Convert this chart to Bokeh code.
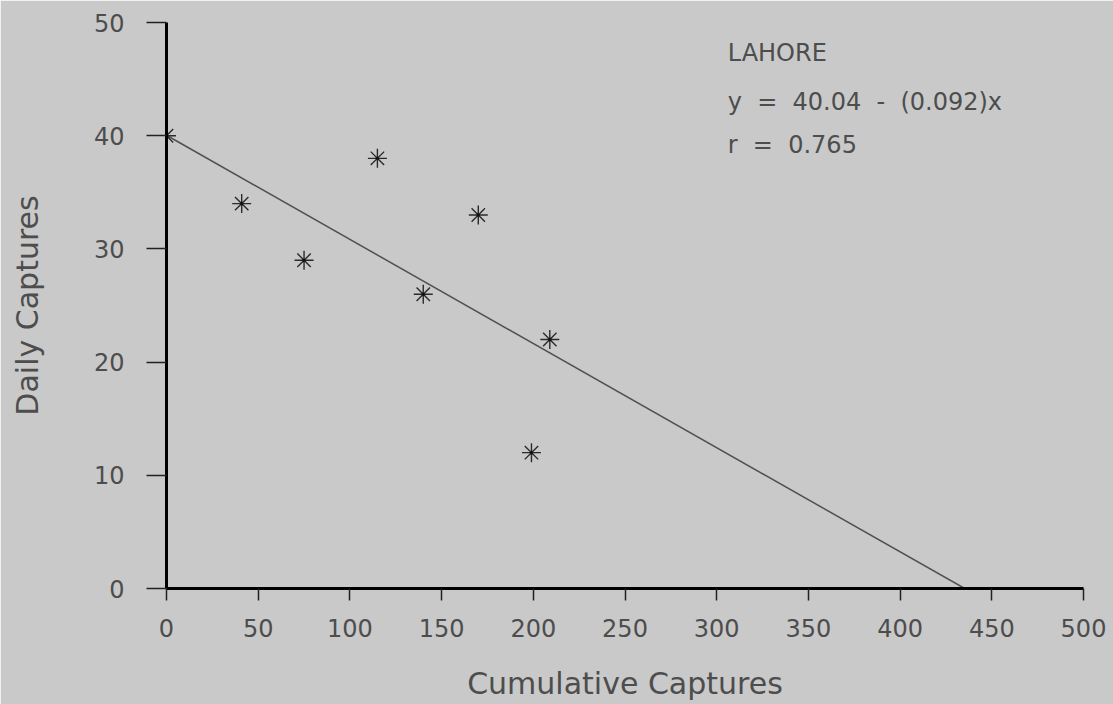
from bokeh.plotting import figure
from bokeh.models import Range1d, FixedTicker, Label
from bokeh.embed import file_html
from bokeh.resources import INLINE

# Lahore trapping data: cumulative captures vs daily captures
cumulative = [0, 41, 75, 115, 140, 170, 209, 199]
daily = [40, 34, 29, 38, 26, 33, 22, 12]

# Fitted line y = a - b*x
intercept = 40.04
slope = 0.092
r_value = 0.765
site = "LAHORE"

x_ticks = [0, 50, 100, 150, 200, 250, 300, 350, 400, 450, 500]
y_ticks = [0, 10, 20, 30, 40, 50]

BG = "#c9c9c9"
TXT = "#4d4d4d"
FONT = "DejaVu Sans"

p = figure(width=1113, height=704, output_backend="svg", toolbar_location=None,
           x_range=Range1d(0, 500), y_range=Range1d(0, 50),
           min_border_left=166, min_border_right=30,
           min_border_top=22, min_border_bottom=116)
p.background_fill_color = BG
p.border_fill_color = BG
# outline in the page colour hides the seam between frame and border
p.outline_line_color = BG
p.outline_line_width = 2
p.grid.visible = False

# fitted line from the y-intercept down to the x-intercept
x_end = intercept / slope
p.line([0, x_end], [intercept, intercept - slope * x_end],
       line_color="#505050", line_width=1.5)

# observations
p.scatter(cumulative, daily, marker="asterisk", size=19,
          line_color="#2a2a2a", line_width=1.4)
p.scatter(cumulative, daily, marker="circle", size=3,
          fill_color="#111111", line_color=None)

for ax in (p.xaxis[0], p.yaxis[0]):
    ax.axis_line_color = "black"
    ax.axis_line_width = 3
    ax.major_tick_line_color = "#222222"
    ax.major_tick_line_width = 1.5
    ax.major_tick_in = 0
    ax.minor_tick_line_color = None
    ax.major_label_text_font = FONT
    ax.major_label_text_font_size = "24px"
    ax.major_label_text_color = TXT
    ax.axis_label_text_font = FONT
    ax.axis_label_text_font_size = "30px"
    ax.axis_label_text_font_style = "normal"
    ax.axis_label_text_color = TXT

p.xaxis.ticker = FixedTicker(ticks=x_ticks)
p.xaxis.major_tick_out = 12
p.xaxis.major_label_standoff = 18
p.xaxis.axis_label = "Cumulative Captures"
p.xaxis.axis_label_standoff = 26

p.yaxis.ticker = FixedTicker(ticks=y_ticks)
p.yaxis.major_tick_out = 20
p.yaxis.major_label_standoff = 22
p.yaxis.axis_label = "Daily Captures"
p.yaxis.axis_label_standoff = 46

# regression summary (wide gaps between terms)
gap = " \u00a0"
eq_lines = [site,
            f"y{gap}={gap}{intercept:.2f}{gap}-{gap}({slope:.3f})x",
            f"r{gap}={gap}{r_value:.3f}"]
for txt, yy in zip(eq_lines, [47.3, 43.0, 39.2]):
    p.add_layout(Label(x=306, y=yy, text=txt, text_font=FONT,
                       text_font_size="24px", text_color=TXT,
                       text_baseline="middle", text_align="left"))

open("out.html", "w").write(file_html(p, INLINE))
